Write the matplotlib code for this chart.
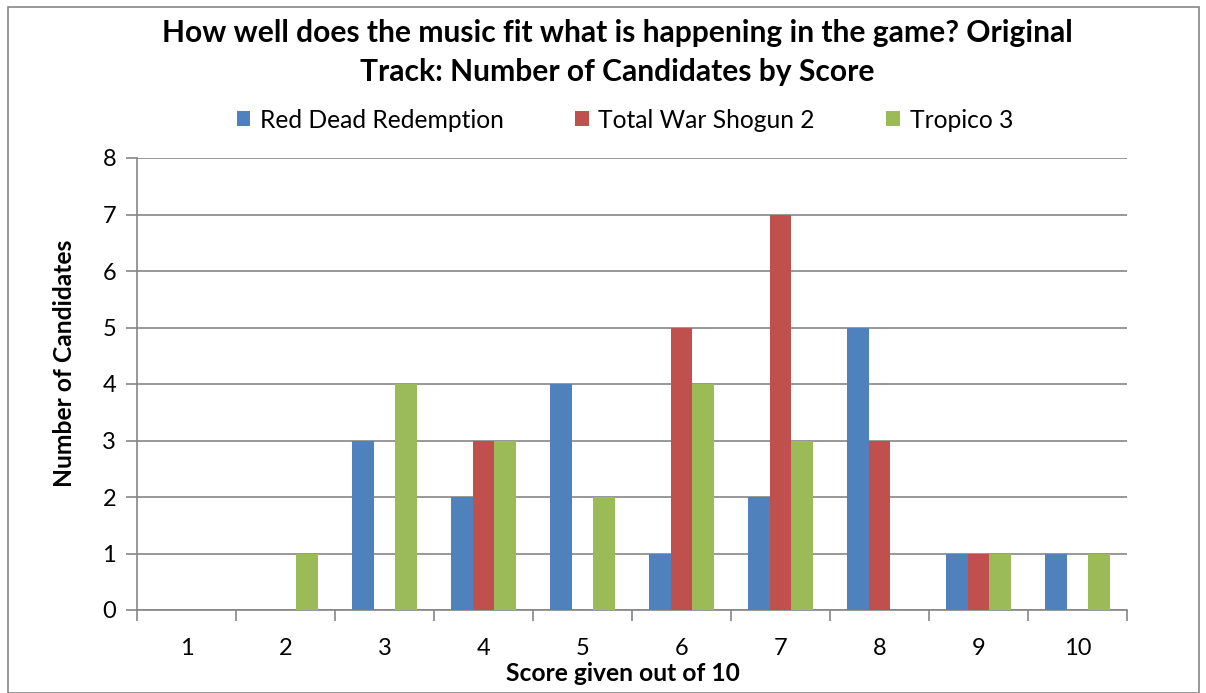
import matplotlib
matplotlib.use("Agg")
import matplotlib.pyplot as plt
import numpy as np
from matplotlib.patches import Rectangle

scores = [1, 2, 3, 4, 5, 6, 7, 8, 9, 10]
red_dead = [0, 0, 3, 2, 4, 1, 2, 5, 1, 1]
total_war = [0, 0, 0, 3, 0, 5, 7, 3, 1, 0]
tropico = [0, 1, 4, 3, 2, 4, 3, 0, 1, 1]
series_names = ["Red Dead Redemption", "Total War Shogun 2", "Tropico 3"]
colors = ["#4F81BD", "#C0504D", "#9BBB59"]

plt.rcParams['font.family'] = ['Lato', 'DejaVu Sans']

fig = plt.figure(figsize=(12.06, 6.93), dpi=100)
ax = fig.add_axes([137/1206, 1-610/693, (1127-137)/1206, (610-158)/693])

x = np.arange(len(scores)) + 1
w = 0.222
for i, (vals, name, c) in enumerate(zip([red_dead, total_war, tropico], series_names, colors)):
    ax.bar(x + (i - 1) * w, vals, width=w, color=c, label=name, zorder=3)

ax.set_xlim(0.5, 10.5)
ax.set_ylim(0, 8)
ax.set_yticks(range(0, 9))
ax.yaxis.grid(True, color="#868686", linewidth=1.2, zorder=0)
ax.set_xticks(x)
ax.set_xticklabels([str(s) for s in scores], fontsize=17)
ax.set_xticks(np.arange(0.5, 11, 1), minor=True)
ax.tick_params(axis='x', which='major', length=0, pad=20)
ax.tick_params(axis='x', which='minor', length=8, color="#868686", width=1.2)
ax.tick_params(axis='y', length=8, color="#868686", width=1.2, labelsize=17, pad=7)
for s in ['top', 'right']:
    ax.spines[s].set_visible(False)
for s in ['left', 'bottom']:
    ax.spines[s].set_color("#868686")
    ax.spines[s].set_linewidth(1.2)

ax.set_xlabel("Score given out of 10", fontsize=17.7, fontweight='bold')
ax.xaxis.set_label_coords((623-137)/990, (610-662)/452)
ax.set_ylabel("Number of Candidates", fontsize=17.7, fontweight='bold')
ax.yaxis.set_label_coords((76-137)/990, (610-363.5)/452)

fig.text(0.512, 1-33/693, "How well does the music fit what is happening in the game? Original",
         ha='center', va='center', fontsize=21.6, fontweight='bold')
fig.text(0.512, 1-72/693, "Track: Number of Candidates by Score",
         ha='center', va='center', fontsize=21.6, fontweight='bold')

leg = fig.legend(loc='center', bbox_to_anchor=(0.518, 1-120/693), ncol=3, frameon=False,
                 fontsize=17.7, handlelength=0.55, handleheight=0.55, handletextpad=0.4,
                 columnspacing=2.9)

fig.patches.append(Rectangle((8/1206, 0), (1199-8)/1206, 1-7/693, transform=fig.transFigure,
                             fill=False, edgecolor="#868686", linewidth=1.2))

fig.savefig("out.png", dpi=100)
